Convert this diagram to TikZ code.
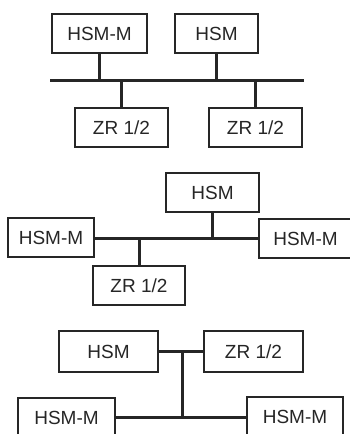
\documentclass[tikz,border=0pt]{standalone}
\usepackage{fontspec}
\setmainfont{Liberation Sans}
\begin{document}
\begin{tikzpicture}[x=1pt,y=-1pt,
  box/.style={draw=black!85,line width=1.2pt,fill=white,rectangle,inner sep=0pt,
    minimum height=39pt,text=black!85,font=\fontsize{19}{19}\selectfont},
  bus/.style={draw=black!85,line width=3pt}]
\useasboundingbox (0,0) rectangle (350,434);
\clip (0,0) rectangle (350,434);
% Diagram 1
\coordinate (b1L) at (50,80);
\coordinate (b1R) at (304,80);
\draw[bus] (b1L) -- (b1R);
\node[box,minimum width=95pt] (hsmm1) at (99.5,33.5) {HSM-M};
\node[box,minimum width=83pt] (hsm1) at (216.5,33.5) {HSM};
\node[box,minimum width=93pt] (zr1a) at (121.5,127.5) {ZR 1/2};
\node[box,minimum width=93pt] (zr1b) at (255.5,127.5) {ZR 1/2};
\draw[bus] (hsmm1.south) -- (hsmm1.south |- b1L);
\draw[bus] (hsm1.south) -- (hsm1.south |- b1L);
\draw[bus] (zr1a.north) -- (zr1a.north |- b1L);
\draw[bus] (zr1b.north) -- (zr1b.north |- b1L);
% Diagram 2
\node[box,minimum width=93pt] (hsm2) at (212.5,192.5) {HSM};
\node[box,minimum width=86pt] (hsmm2a) at (51,237.5) {HSM-M};
\node[box,minimum width=93pt] (hsmm2b) at (305.5,238.5) {HSM-M};
\node[box,minimum width=92pt] (zr2) at (139,285.5) {ZR 1/2};
\coordinate (b2) at (0,238);
\draw[bus] (hsmm2a.east |- b2) -- (hsmm2b.west |- b2);
\draw[bus] (hsm2.south) -- (hsm2.south |- b2);
\draw[bus] (zr2.north) -- (zr2.north |- b2);
% Diagram 3
\node[box,minimum width=99pt,minimum height=41pt] (hsm3) at (108.5,351.5) {HSM};
\node[box,minimum width=99pt,minimum height=41pt] (zr3) at (253.5,351.5) {ZR 1/2};
\node[box,minimum width=97pt] (hsmm3a) at (66.5,417.5) {HSM-M};
\node[box,minimum width=96pt] (hsmm3b) at (295,416.5) {HSM-M};
\coordinate (t3) at (182,351.5);
\coordinate (j3) at (182,417);
\draw[bus] (hsm3.east) -- (zr3.west);
\draw[bus] (t3) -- (j3);
\draw[bus] (hsmm3a.east |- j3) -- (hsmm3b.west |- j3);
\end{tikzpicture}
\end{document}
